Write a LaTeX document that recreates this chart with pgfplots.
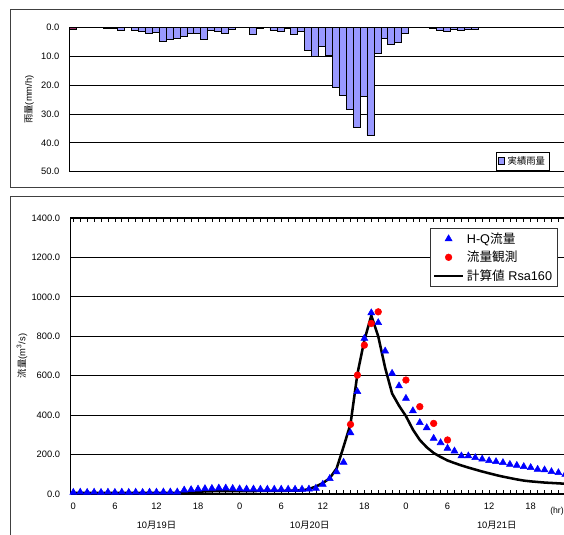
\documentclass[border=0pt]{standalone}
\usepackage{pgfplots}
\pgfplotsset{compat=1.18}
\usepackage{pgfplotstable}
\usepackage{fontspec}
\setmainfont{Liberation Sans}
\newfontfamily\jp{Noto Sans CJK JP}
\definecolor{barblue}{RGB}{153,153,255}
\definecolor{barred}{RGB}{153,51,102}

\pgfplotstableread{
hour rain
5 0.2
6 0.2
7 1.0
9 0.8
10 1.3
11 2.0
12 1.6
13 4.8
14 4.0
15 3.6
16 3.1
17 1.9
18 2.0
19 4.0
20 1.1
21 1.2
22 2.0
23 0.6
26 2.2
27 0.3
29 0.8
30 1.2
31 0.3
32 2.5
33 1.4
34 7.9
35 10.0
36 6.4
37 9.5
38 20.8
39 23.6
40 28.3
41 34.6
42 23.7
43 37.3
44 9.0
45 3.7
46 5.8
47 5.1
48 2.0
52 0.2
53 0.9
54 1.3
55 0.7
56 1.1
57 0.5
58 0.7
}\raintable

\pgfplotstableread{
hour q
0 8
1 9
2 8
3 9
4 8
5 9
6 8
7 9
8 8
9 9
10 8
11 9
12 9
13 10
14 10
15 10
16 20
17 22
18 25
19 27
20 28
21 30
22 30
23 28
24 26
25 25
26 25
27 24
28 24
29 24
30 24
31 24
32 24
33 24
34 25
35 29
36 49
37 78
38 112
39 161
40 310
41 519
42 789
43 919
44 869
45 725
46 612
47 548
48 485
49 422
50 362
51 336
52 282
53 260
54 232
55 218
56 193
57 193
58 184
59 177
60 169
61 164
62 159
63 150
64 145
65 139
66 134
67 125
68 122
69 113
70 108
71 100
72 95
}\hqtable

\pgfplotstableread{
hour q
40 353
41 603
42 755
43 865
44 924
48 578
50 443
52 358
54 274
}\obstable

\pgfplotstableread{
hour q
0 6
15 6
16 8
17 10
18 12
19 13
20 14
25 15
30 16
33 18
34 25
35 38
36 55
37 80
38 130
39 240
40 355
41 610
42 780
43 905
44 800
45 640
46 510
47 448
48 395
49 327
50 274
51 237
52 208
53 188
54 170
55 157
56 145
57 134
58 124
59 114
60 105
61 96
62 88
63 81
64 74
65 68
66 64
67 61
68 58
69 56
70 54
71 52
72 51
}\calctable

\begin{document}
\begin{tikzpicture}
\useasboundingbox (0,0) rectangle (423pt,401.25pt);
\clip (0,0) rectangle (423pt,401.25pt);
\draw[black!75,line width=0.75pt] (8.1pt,260.25pt) rectangle (460pt,394.3pt);
\draw[black!75,line width=0.75pt] (7.5pt,-10pt) rectangle (460pt,253.5pt);

\begin{axis}[
  at={(51.75pt,272.5pt)}, anchor=south west, scale only axis,
  width=379.4pt, height=108.1pt,
  xmin=-0.5, xmax=72.5, ymin=0, ymax=50, y dir=reverse,
  xtick=\empty, ytick={0,10,...,50},
  ymajorgrids, grid style={black, line width=0.6pt},
  axis line style={black, line width=0.75pt},
  ytick style={draw=none},
  yticklabel style={font=\fontsize{7}{8}\selectfont, xshift=-3.7pt,
    /pgf/number format/.cd, fixed, fixed zerofill, precision=1, 1000 sep={}, assume math mode=true},
  ylabel={{\jp 雨量}(mm/h)},
  ylabel style={font=\fontsize{7}{8}\selectfont, at={(axis description cs:-0.079,0.5)}, anchor=center},
  legend style={at={(0.844,0.137)}, anchor=north west, draw=black, fill=white,
    font=\fontsize{7}{8}\selectfont, inner sep=1pt},
  legend image code/.code={\draw[fill=barblue,draw=black,line width=0.4pt] (0pt,-2.6pt) rectangle (5.2pt,2.6pt);},
]
\addplot[ybar, bar width=1, fill=barblue, draw=black, line width=0.4pt] table[x=hour,y=rain] {\raintable};
\addlegendentry{\jp 実績雨量}
\addplot[ybar, bar width=1, fill=barred, draw=black, line width=0.4pt, forget plot] coordinates {(0,0.7)};
\end{axis}

\begin{axis}[
  at={(52.9pt,30.75pt)}, anchor=south west, scale only axis,
  width=376.3pt, height=207pt,
  xmin=-0.4, xmax=72, ymin=0, ymax=1400,
  xtick={0,6,...,66}, xticklabels={0,6,12,18,0,6,12,18,0,6,12,18},
  minor xtick={0,1,...,72},
  tick align=inside, major tick length=3pt, minor tick length=3pt,
  xtick style={black, line width=0.5pt}, ytick style={draw=none},
  ytick={0,200,...,1400},
  ymajorgrids, grid style={black, line width=0.6pt},
  axis line style={black, line width=0.75pt},
  xticklabel style={font=\fontsize{7}{8}\selectfont, yshift=-3.5pt},
  yticklabel style={font=\fontsize{7}{8}\selectfont, xshift=-4.3pt,
    /pgf/number format/.cd, fixed, fixed zerofill, precision=1, 1000 sep={}, assume math mode=true},
  ylabel={{\jp 流量}(m\textsuperscript{3}/s)},
  ylabel style={font=\fontsize{7}{8}\selectfont, at={(axis description cs:-0.0967,0.5)}, anchor=center},
  clip=false,
  legend style={at={(0.7166,0.963)}, anchor=north west, draw=black!80, fill=white,
    font=\fontsize{9.5}{11}\selectfont, inner xsep=2pt, inner ysep=1pt, row sep=0.4pt},
  legend cell align=left,
  legend image code/.code={\draw[mark repeat=2,mark phase=2,#1] plot coordinates {(0pt,0pt)(10.75pt,0pt)(21.5pt,0pt)};},
]
\addplot[black, line width=1.9pt, forget plot] table[x=hour,y=q] {\calctable};
\addplot[only marks, mark=triangle*, mark size=3pt, color=blue, fill=blue] table[x=hour,y=q] {\hqtable};
\addlegendentry{H-Q{\jp 流量}}
\addplot[only marks, mark=*, mark size=2.5pt, color=red, fill=red] table[x=hour,y=q] {\obstable};
\addlegendentry{\jp 流量観測}
\addlegendimage{black, line width=1.9pt}
\addlegendentry{{\jp 計算値} Rsa160}
\node[font=\fontsize{7}{8}\selectfont] at (axis cs:12,0) [yshift=-23.25pt] {10{\jp 月}19{\jp 日}};
\node[font=\fontsize{7}{8}\selectfont] at (axis cs:34.1,0) [yshift=-23.25pt] {10{\jp 月}20{\jp 日}};
\node[font=\fontsize{7}{8}\selectfont] at (axis cs:61.1,0) [yshift=-23.25pt] {10{\jp 月}21{\jp 日}};
\end{axis}
\node[anchor=west, font=\fontsize{6.5}{7}\selectfont, inner sep=0pt] at (412.5pt,17.5pt) {(hr)};
\end{tikzpicture}
\end{document}
